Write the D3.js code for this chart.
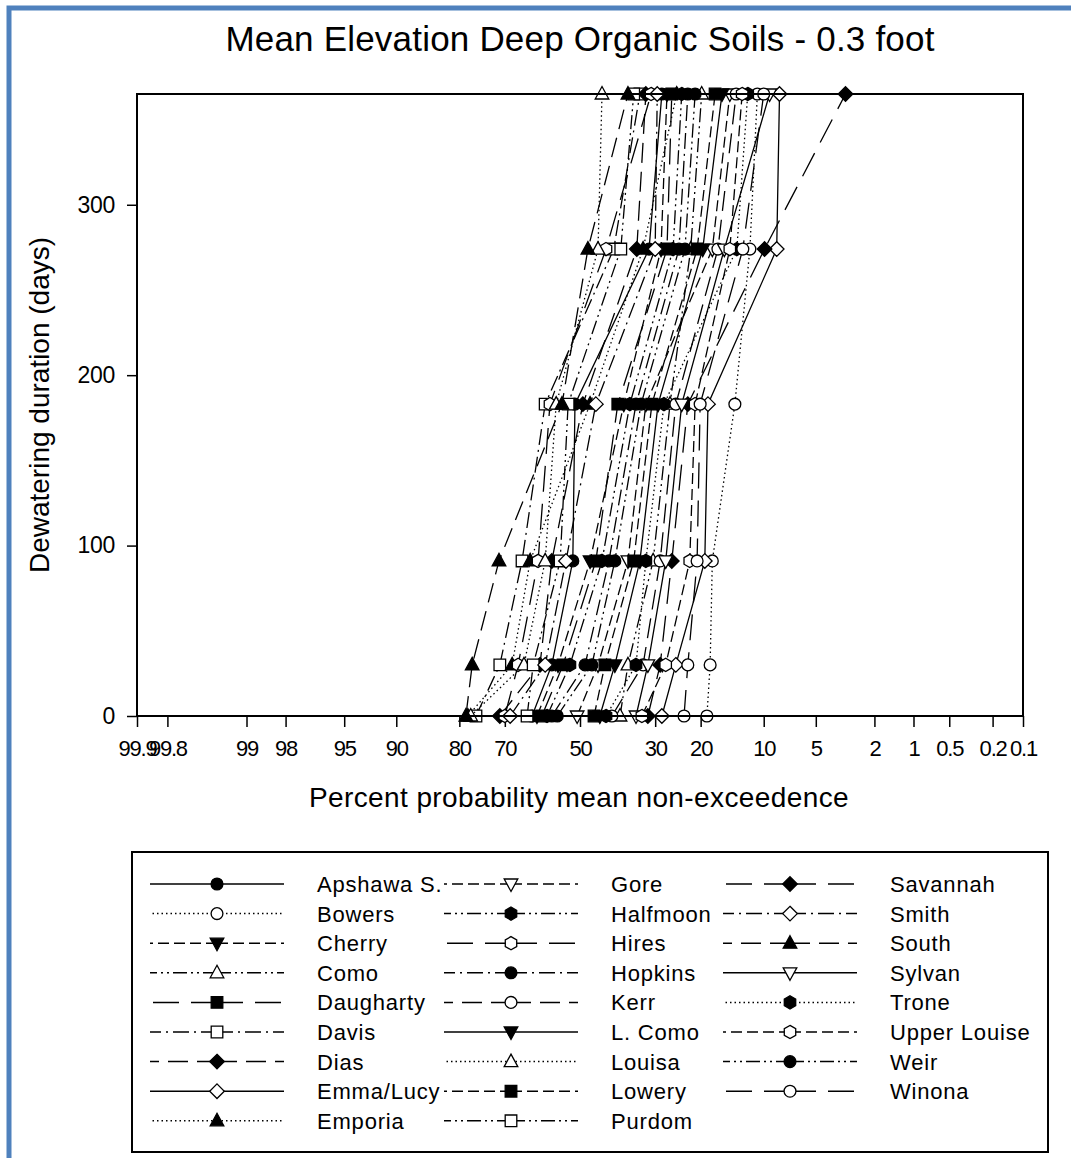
<!DOCTYPE html>
<html>
<head>
<meta charset="utf-8">
<script src="https://cdn.jsdelivr.net/npm/d3@7"></script>
<style>
  body { margin: 0; background: #fff; }
  svg { display: block; font-family: "Liberation Sans", Arial, sans-serif; }
</style>
</head>
<body>
<svg id="chart" width="1071" height="1158"></svg>
<script>
// days of dewatering (y) at which each lake was evaluated
const days = [0, 30, 91, 183, 274, 365];

const lakeNames = ["Apshawa S.", "Bowers", "Cherry", "Como", "Daugharty", "Davis", "Dias",
  "Emma/Lucy", "Emporia", "Gore", "Halfmoon", "Hires", "Hopkins", "Kerr", "L. Como",
  "Louisa", "Lowery", "Purdom", "Savannah", "Smith", "South", "Sylvan", "Trone",
  "Upper Louise", "Weir", "Winona"];

// percent probability of mean non-exceedence, one row per lake, one value per day
const percentValues = [
  [63.1, 57.8, 52.0, 51.4, 31.5, 28.4],  // Apshawa S.
  [18.8, 18.2, 17.8, 14.0, 11.8, 10.8],  // Bowers
  [61.8, 56.1, 47.2, 38.0, 28.6, 27.2],  // Cherry
  [39.0, 36.9, 30.5, 26.5, 22.0, 19.8],  // Como
  [60.5, 54.7, 45.6, 39.6, 27.2, 26.1],  // Daugharty
  [76.6, 71.2, 65.7, 59.6, 40.7, 33.8],  // Davis
  [71.2, 61.0, 57.8, 49.2, 34.6, 32.3],  // Dias
  [28.4, 25.2, 19.2, 18.6, 8.5, 8.2],    // Emma/Lucy
  [78.3, 68.2, 63.6, 47.2, 33.0, 25.0],  // Emporia
  [50.8, 45.0, 36.9, 32.3, 17.8, 14.8],  // Gore
  [59.1, 52.8, 43.9, 36.4, 25.8, 23.9],  // Halfmoon
  [70.0, 66.7, 61.5, 58.3, 42.8, 31.0],  // Hires
  [57.8, 48.6, 42.0, 34.8, 24.5, 22.6],  // Hopkins
  [41.2, 33.0, 28.8, 25.2, 16.8, 13.8],  // Kerr
  [44.5, 40.4, 33.8, 29.3, 19.6, 16.1],  // L. Como
  [77.7, 65.2, 59.6, 56.6, 45.0, 43.9],  // Louisa
  [46.1, 43.1, 35.4, 30.8, 20.7, 17.3],  // Lowery
  [64.4, 62.8, 55.5, 53.3, 38.8, 35.4],  // Purdom
  [31.8, 28.8, 26.1, 22.6, 9.9, 3.2],    // Savannah
  [68.7, 59.6, 53.9, 45.6, 30.0, 29.5],  // Smith
  [78.7, 77.4, 71.4, 55.0, 47.8, 36.9],  // South
  [34.8, 31.8, 27.5, 23.9, 15.7, 9.3],   // Sylvan
  [42.8, 34.8, 32.3, 27.9, 13.7, 12.1],  // Trone
  [33.3, 27.5, 22.2, 21.1, 14.8, 12.9],  // Upper Louise
  [56.3, 46.7, 40.4, 33.5, 23.2, 21.1],  // Weir
  [23.4, 22.6, 20.7, 20.1, 12.8, 10.0]   // Winona
];

const xTickLabels = ["99.9", "99.8", "99", "98", "95", "90", "80", "70", "50", "30", "20",
  "10", "5", "2", "1", "0.5", "0.2", "0.1"];
const yTickValues = [0, 100, 200, 300];

// sigmaplot style cycles
const symbolCycle = [["circle", true], ["circle", false], ["triDown", true], ["triUp", false],
  ["square", true], ["square", false], ["diamond", true], ["diamond", false],
  ["triUp", true], ["triDown", false], ["hexagon", true], ["hexagon", false]];
const dashCycle = ["", "1.5,3", "11,5", "14,4,2,4,2,4", "26,12", "16,5,2,5", "20,9"];

// inverse of the standard normal cdf (Acklam)
function probit(p) {
  const a = [-3.969683028665376e+01, 2.209460984245205e+02, -2.759285104469687e+02, 1.383577518672690e+02, -3.066479806614716e+01, 2.506628277459239e+00];
  const b = [-5.447609879822406e+01, 1.615858368580409e+02, -1.556989798598866e+02, 6.680131188771972e+01, -1.328068155288572e+01];
  const c = [-7.784894002430293e-03, -3.223964580411365e-01, -2.400758277161838e+00, -2.549732539343734e+00, 4.374664141464968e+00, 2.938163982698783e+00];
  const d = [7.784695709041462e-03, 3.224671290700398e-01, 2.445134137142996e+00, 3.754408661907416e+00];
  const pl = 0.02425;
  let q, r;
  if (p < pl) {
    q = Math.sqrt(-2 * Math.log(p));
    return (((((c[0]*q+c[1])*q+c[2])*q+c[3])*q+c[4])*q+c[5]) / ((((d[0]*q+d[1])*q+d[2])*q+d[3])*q+1);
  }
  if (p > 1 - pl) {
    q = Math.sqrt(-2 * Math.log(1 - p));
    return -(((((c[0]*q+c[1])*q+c[2])*q+c[3])*q+c[4])*q+c[5]) / ((((d[0]*q+d[1])*q+d[2])*q+d[3])*q+1);
  }
  q = p - 0.5; r = q * q;
  return (((((a[0]*r+a[1])*r+a[2])*r+a[3])*r+a[4])*r+a[5])*q / (((((b[0]*r+b[1])*r+b[2])*r+b[3])*r+b[4])*r+1);
}

function symbolPath(kind) {
  let pts;
  if (kind === "circle") return d3.symbol(d3.symbolCircle, 110)();
  if (kind === "triUp") pts = [[0, -7.5], [6.8, 5], [-6.8, 5]];
  if (kind === "triDown") pts = [[0, 7.5], [6.8, -5], [-6.8, -5]];
  if (kind === "square") pts = [[-5.8, -5.8], [5.8, -5.8], [5.8, 5.8], [-5.8, 5.8]];
  if (kind === "diamond") pts = [[0, -7.3], [7.3, 0], [0, 7.3], [-7.3, 0]];
  if (kind === "hexagon") pts = d3.range(6).map(i => [6.6 * Math.sin(i * Math.PI / 3), -6.6 * Math.cos(i * Math.PI / 3)]);
  return "M" + pts.join("L") + "Z";
}

const svg = d3.select("#chart");
const plot = { left: 137, top: 94, right: 1023, bottom: 716 };

// blue frame on the left and top edges
svg.append("path")
  .attr("d", "M9,1158V8H1071")
  .attr("fill", "none").attr("stroke", "#4f81bd").attr("stroke-width", 5);

// probability axis: linear in the normal quantile, 99.9 on the left
const zScale = d3.scaleLinear()
  .domain([probit(0.999), probit(0.001)])
  .range([plot.left, plot.right]);
const x = p => zScale(probit(p / 100));
const y = d3.scaleLinear().domain([0, 365]).range([plot.bottom, plot.top]);

svg.append("text")
  .attr("x", 580).attr("y", 51)
  .attr("text-anchor", "middle")
  .attr("font-size", 35)
  .attr("letter-spacing", 0.2)
  .text("Mean Elevation Deep Organic Soils - 0.3 foot");

const xAxis = d3.axisBottom(zScale)
  .tickValues(xTickLabels.map(t => probit(+t / 100)))
  .tickFormat((d, i) => xTickLabels[i])
  .tickSize(11).tickPadding(13);
svg.append("g")
  .attr("transform", `translate(0,${plot.bottom})`)
  .call(xAxis)
  .call(g => g.select(".domain").remove())
  .call(g => g.selectAll("line").attr("stroke", "#000").attr("stroke-width", 1.5))
  .call(g => g.selectAll("text").attr("font-size", 22).attr("letter-spacing", -1.2)
    .attr("font-family", "Liberation Sans, Arial, sans-serif").attr("fill", "#000"));

const yAxis = d3.axisLeft(y).tickValues(yTickValues).tickSize(10).tickPadding(12);
svg.append("g")
  .attr("transform", `translate(${plot.left},0)`)
  .call(yAxis)
  .call(g => g.select(".domain").remove())
  .call(g => g.selectAll("line").attr("stroke", "#000").attr("stroke-width", 1.5))
  .call(g => g.selectAll("text").attr("font-size", 23).attr("letter-spacing", -0.3)
    .attr("font-family", "Liberation Sans, Arial, sans-serif").attr("fill", "#000"));

svg.append("text")
  .attr("transform", "translate(49,405) rotate(-90)")
  .attr("text-anchor", "middle")
  .attr("font-size", 28)
  .text("Dewatering duration (days)");

svg.append("text")
  .attr("x", 579).attr("y", 807)
  .attr("text-anchor", "middle")
  .attr("font-size", 28)
  .attr("letter-spacing", 0.4)
  .text("Percent probability mean non-exceedence");

// series: line then symbols, in order
const line = d3.line().x(d => x(d[0])).y(d => y(d[1]));
const seriesG = svg.append("g");
lakeNames.forEach((name, i) => {
  const pts = percentValues[i].map((p, j) => [p, days[j]]);
  const [kind, filled] = symbolCycle[i % symbolCycle.length];
  const g = seriesG.append("g");
  g.append("path")
    .attr("d", line(pts))
    .attr("fill", "none").attr("stroke", "#000").attr("stroke-width", 1.3)
    .attr("stroke-dasharray", dashCycle[i % dashCycle.length] || null);
  g.selectAll("path.sym")
    .data(pts)
    .join("path")
    .attr("class", "sym")
    .attr("transform", d => `translate(${x(d[0])},${y(d[1])})`)
    .attr("d", symbolPath(kind))
    .attr("fill", filled ? "#000" : "#fff")
    .attr("stroke", "#000").attr("stroke-width", 1.3);
});

svg.append("rect")
  .attr("x", plot.left).attr("y", plot.top)
  .attr("width", plot.right - plot.left).attr("height", plot.bottom - plot.top)
  .attr("fill", "none").attr("stroke", "#000").attr("stroke-width", 2);

// legend
svg.append("rect")
  .attr("x", 132).attr("y", 852).attr("width", 916).attr("height", 300)
  .attr("fill", "#fff").attr("stroke", "#000").attr("stroke-width", 2);

const legendCols = [{ cx: 217, tx: 317 }, { cx: 511, tx: 611 }, { cx: 790, tx: 890 }];
const rowH = 29.6, row0 = 884, halfLen = 67;
lakeNames.forEach((name, i) => {
  const col = legendCols[Math.floor(i / 9)];
  const cy = row0 + (i % 9) * rowH;
  const [kind, filled] = symbolCycle[i % symbolCycle.length];
  const dash = dashCycle[i % dashCycle.length] || null;
  const g = svg.append("g");
  [-1, 1].forEach(s => {
    g.append("line")
      .attr("x1", col.cx).attr("y1", cy)
      .attr("x2", col.cx + s * halfLen).attr("y2", cy)
      .attr("stroke", "#000").attr("stroke-width", 1.5)
      .attr("stroke-dasharray", dash);
  });
  g.append("path")
    .attr("transform", `translate(${col.cx},${cy})`)
    .attr("d", symbolPath(kind))
    .attr("fill", filled ? "#000" : "#fff")
    .attr("stroke", "#000").attr("stroke-width", 1.3);
  g.append("text")
    .attr("x", col.tx).attr("y", cy + 8)
    .attr("font-size", 22).attr("letter-spacing", 0.8)
    .text(name);
});
</script>
</body>
</html>
